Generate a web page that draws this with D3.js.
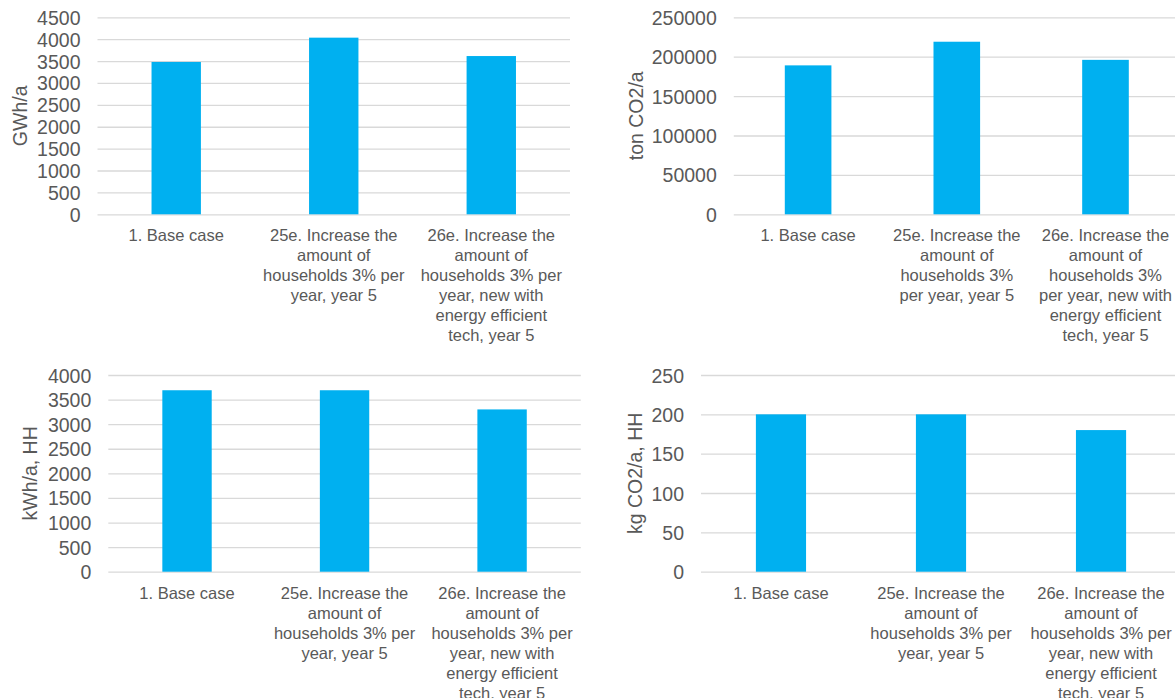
<!DOCTYPE html>
<html>
<head>
<meta charset="utf-8">
<script src="https://cdn.jsdelivr.net/npm/d3@7"></script>
<style>
  html, body { margin: 0; padding: 0; background: #ffffff; }
  svg { display: block; font-family: "Liberation Sans", Arial, sans-serif; }
</style>
</head>
<body>
<svg id="chart" width="1175" height="698"></svg>
<script>
// Scenario names shared by all four panels
const categories = [
  "1. Base case",
  "25e. Increase the amount of households 3% per year, year 5",
  "26e. Increase the amount of households 3% per year, new with energy efficient tech, year 5"
];

// Series values per panel
const gwhValues = [3480, 4035, 3615];
const tonCo2Values = [189000, 219000, 196000];
const kwhPerHhValues = [3690, 3690, 3300];
const kgCo2PerHhValues = [200, 200, 180];

// Y-axis tick values per panel
const gwhTicks = [0, 500, 1000, 1500, 2000, 2500, 3000, 3500, 4000, 4500];
const tonCo2Ticks = [0, 50000, 100000, 150000, 200000, 250000];
const kwhPerHhTicks = [0, 500, 1000, 1500, 2000, 2500, 3000, 3500, 4000];
const kgCo2PerHhTicks = [0, 50, 100, 150, 200, 250];

// Axis titles
const axisTitles = ["GWh/a", "ton CO2/a", "kWh/a, HH", "kg CO2/a, HH"];

const BAR_COLOR = "#00b0f0";
const TEXT_COLOR = "#595959";
const GRID_COLOR = "#d9d9d9";

// Panel layout: plot area edges and axis title position
const panels = [
  { values: gwhValues, ticks: gwhTicks, title: axisTitles[0],
    x0: 97.5, x1: 570, yTop: 17.3, yBottom: 214.3, titleX: 27 },
  { values: tonCo2Values, ticks: tonCo2Ticks, title: axisTitles[1],
    x0: 733.8, x1: 1179.8, yTop: 17.3, yBottom: 214.3, titleX: 643 },
  { values: kwhPerHhValues, ticks: kwhPerHhTicks, title: axisTitles[2],
    x0: 108.3, x1: 580.8, yTop: 375, yBottom: 571.7, titleX: 37 },
  { values: kgCo2PerHhValues, ticks: kgCo2PerHhTicks, title: axisTitles[3],
    x0: 701, x1: 1181, yTop: 375, yBottom: 571.7, titleX: 642 }
];

const svg = d3.select("#chart");

// Greedy word wrap using rendered text widths
function wrapLines(textSel, words, maxWidth) {
  const lines = [];
  let current = [];
  const probe = textSel.append("tspan");
  words.forEach(w => {
    const trial = current.concat([w]).join(" ");
    probe.text(trial);
    if (current.length && probe.node().getComputedTextLength() > maxWidth) {
      lines.push(current.join(" "));
      current = [w];
    } else {
      current.push(w);
    }
  });
  if (current.length) lines.push(current.join(" "));
  probe.remove();
  return lines;
}

panels.forEach(p => {
  const g = svg.append("g");

  const x = d3.scaleBand()
    .domain(categories)
    .range([p.x0, p.x1])
    .paddingInner(0.6865)
    .paddingOuter(0.343);

  const y = d3.scaleLinear()
    .domain([0, d3.max(p.ticks)])
    .range([p.yBottom, p.yTop]);

  // Horizontal gridlines with tick labels
  const axis = d3.axisLeft(y)
    .tickValues(p.ticks)
    .tickFormat(d3.format("d"))
    .tickSize(-(p.x1 - p.x0))
    .tickPadding(17);

  const axisG = g.append("g")
    .attr("transform", `translate(${p.x0},0)`)
    .call(axis);
  axisG.select(".domain").remove();
  axisG.selectAll(".tick line")
    .attr("stroke", GRID_COLOR)
    .attr("stroke-width", 1.3);
  axisG.selectAll(".tick text")
    .attr("fill", TEXT_COLOR)
    .attr("font-size", "19.5px")
    .attr("font-family", "'Liberation Sans', Arial, sans-serif")
    .attr("dy", "0.36em");

  // Bars
  g.append("g").selectAll("rect")
    .data(categories.map((c, i) => ({ c, v: p.values[i] })))
    .join("rect")
    .attr("x", d => x(d.c))
    .attr("y", d => y(d.v))
    .attr("width", x.bandwidth())
    .attr("height", d => y(0) - y(d.v))
    .attr("fill", BAR_COLOR);

  // Wrapped category labels
  const maxWidth = x.step() * 0.92;
  categories.forEach(c => {
    const cx = x(c) + x.bandwidth() / 2;
    const t = g.append("text")
      .attr("text-anchor", "middle")
      .attr("fill", TEXT_COLOR)
      .attr("font-size", "16.5px")
      .attr("x", cx)
      .attr("y", p.yBottom + 27);
    const lines = wrapLines(t, c.split(" "), maxWidth);
    lines.forEach((line, i) => {
      t.append("tspan")
        .attr("x", cx)
        .attr("y", p.yBottom + 27 + i * 20)
        .text(line);
    });
  });

  // Rotated axis title centred on the plot area
  g.append("text")
    .attr("transform", `translate(${p.titleX},${(p.yTop + p.yBottom) / 2}) rotate(-90)`)
    .attr("text-anchor", "middle")
    .attr("fill", TEXT_COLOR)
    .attr("font-size", "19.5px")
    .text(p.title);
});
</script>
</body>
</html>
